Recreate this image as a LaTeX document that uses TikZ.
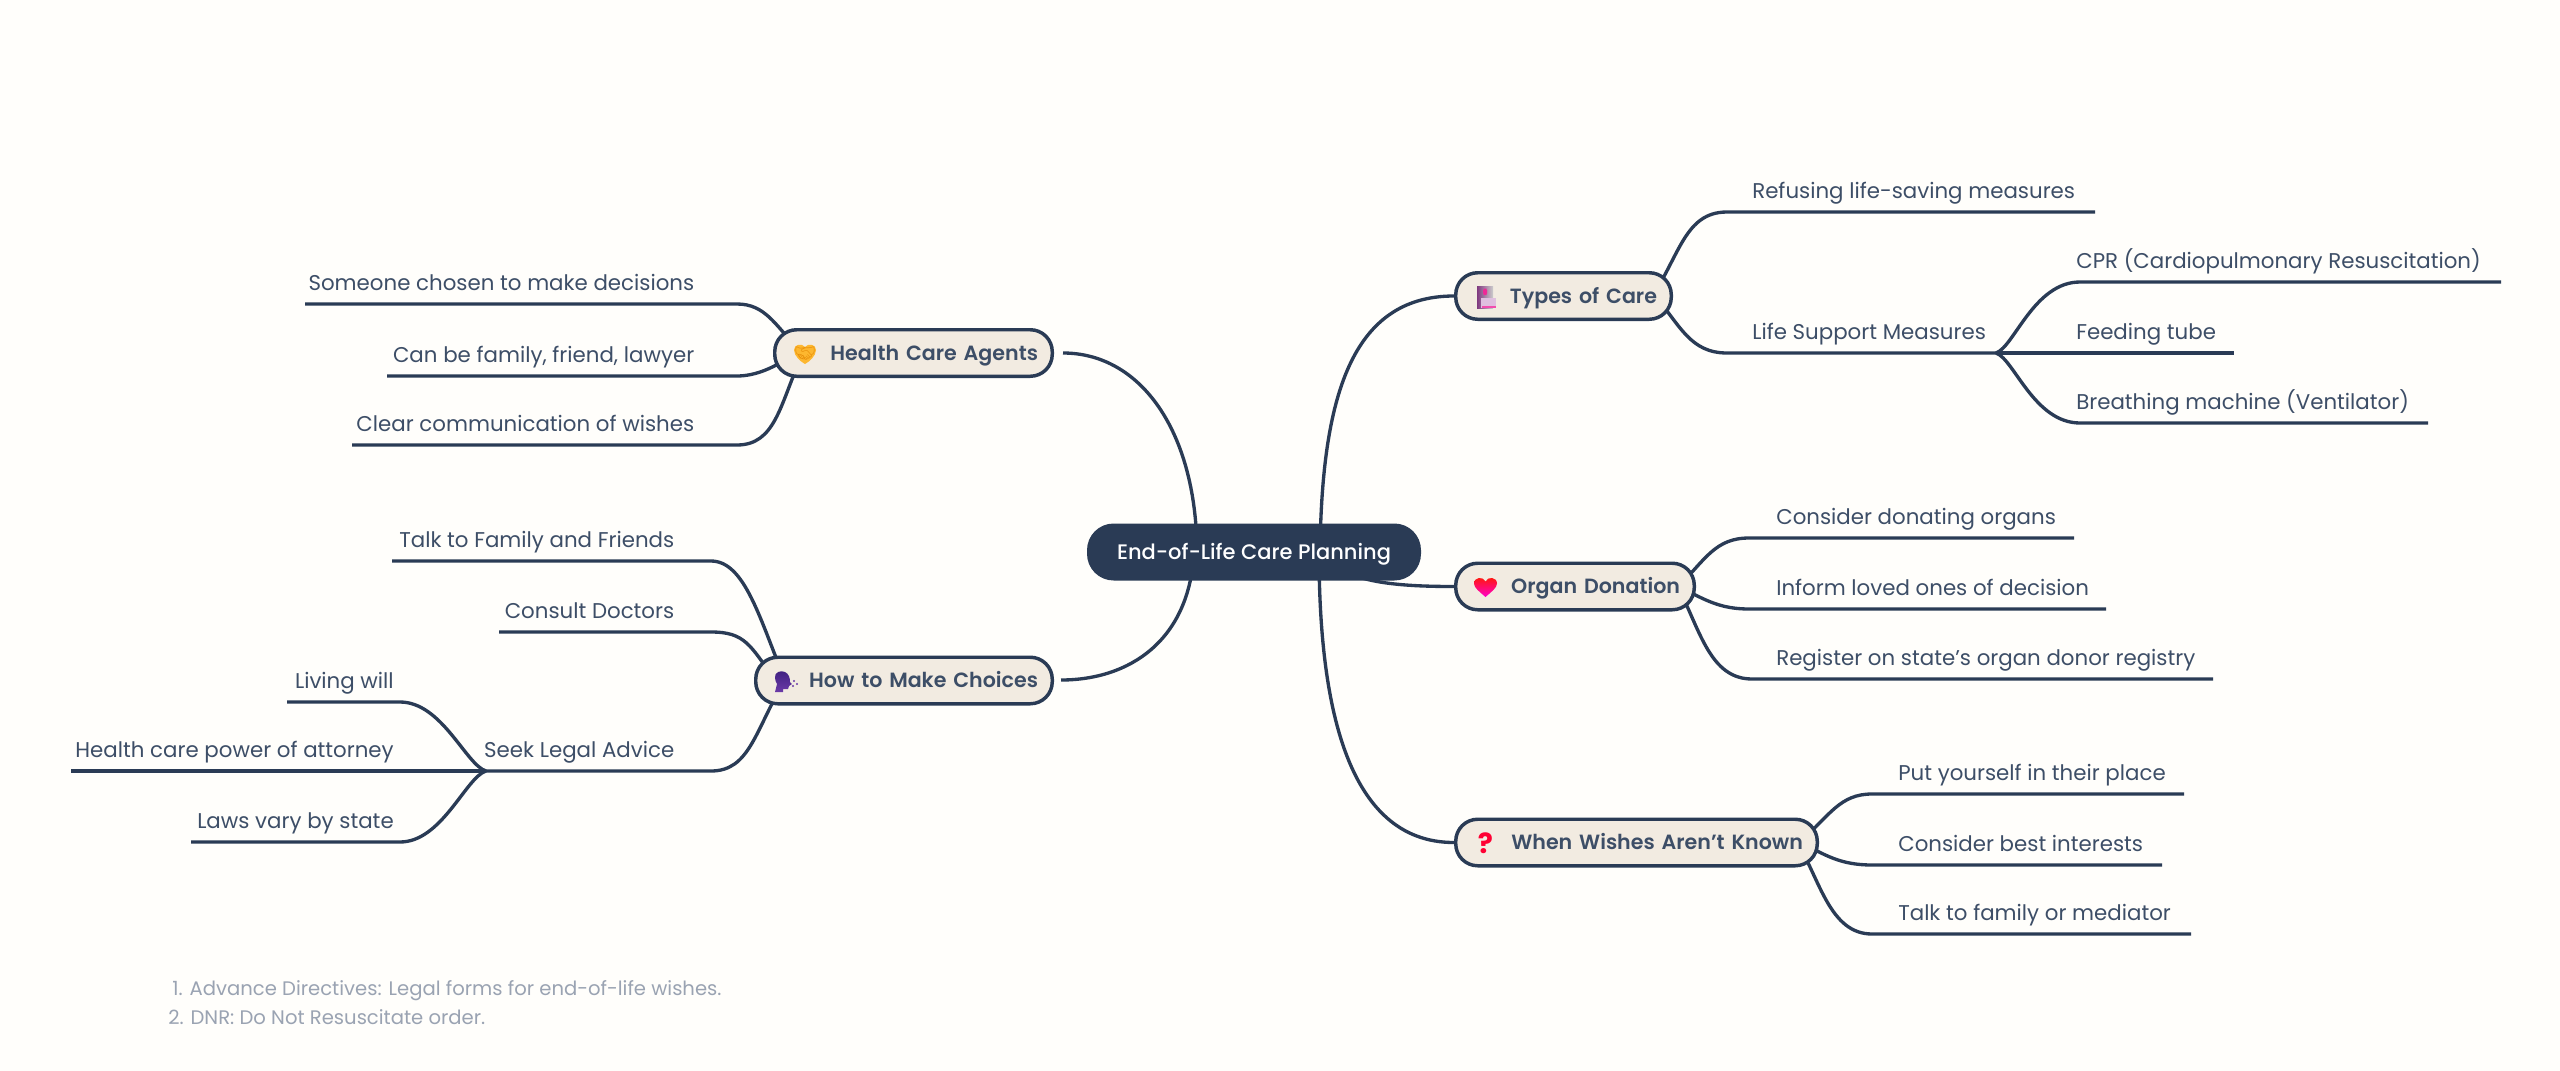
\documentclass[tikz,border=0pt]{standalone}
\usepackage{fontspec}
\setmainfont{Poppins}
\newfontfamily\popmed{Poppins}[UprightFont=* Medium]
\newfontfamily\popsemi{Poppins}[UprightFont=* SemiBold]
\newfontfamily\emo{Noto Emoji}
\definecolor{pagebg}{HTML}{FFFEFB}
\definecolor{linec}{HTML}{2A3B55}
\definecolor{pillf}{HTML}{F2EBE1}
\definecolor{txt}{HTML}{3D4E67}
\definecolor{foot}{HTML}{9AA3B2}
\definecolor{handc}{HTML}{FDB72F}
\definecolor{handd}{HTML}{E8900C}
\definecolor{heada}{HTML}{3F2080}
\definecolor{headb}{HTML}{6B3AA8}
\pgfdeclarelayer{lines}
\pgfsetlayers{lines,main}
\tikzset{
 link/.style={draw=linec,line width=2.5pt},
 leaf/.style={font=\fontsize{16pt}{20pt}\selectfont,text=txt,inner sep=0pt},
 pill/.style={draw=linec,line width=2.6pt,fill=pillf,rounded corners=16.5pt,minimum height=34.9pt,
   inner xsep=10.7pt,inner ysep=0pt,text=txt,align=right,text height=12.75pt,text depth=2.25pt,
   font=\fontsize{15.45pt}{20pt}\popsemi},
 root/.style={fill=linec,rounded corners=20pt,minimum width=250.5pt,minimum height=42.75pt,inner sep=0pt,
   text=white,text height=12.75pt,text depth=2.25pt,font=\fontsize{15.75pt}{20pt}\popmed},
 note/.style={font=\fontsize{14.7pt}{18pt}\selectfont,text=foot,inner sep=0pt,anchor=base west},
}
\newcommand{\LeafL}[4]{\node[leaf,anchor=base east] (#1) at (#2,#3-14) {#4};}
\newcommand{\LeafR}[4]{\node[leaf,anchor=base west] (#1) at (#2,#3-14) {#4};}
\begin{document}
\begin{tikzpicture}[x=0.75pt,y=-0.75pt]
\useasboundingbox (0,0) rectangle (2560,1071);
\begin{pgfonlayer}{lines}
\fill[pagebg] (0,0) rectangle (2560,1071);
\end{pgfonlayer}
% root and branches
\node[root] (ctr) at (1254,552) {End-of-Life Care Planning};
\node[pill,text width=186.75pt] (ha) at (913.5,353) {Health Care Agents};
\node[pill,text width=201pt] (hm) at (904,680.5) {How to Make Choices};
\node[pill,text width=140.25pt] (tc) at (1563.5,296) {Types of Care};
\node[pill,text width=157.5pt] (od) at (1575,586.5) {Organ Donation};
\node[pill,text width=249.75pt] (ww) at (1636.5,842.5) {When Wishes Aren’t Known};
% leaves
\LeafR{l1}{1752}{212}{Refusing life-saving measures}
\LeafR{l2}{1752}{353}{Life Support Measures}
\LeafR{l21}{2076}{282}{CPR (Cardiopulmonary Resuscitation)}
\LeafR{l22}{2076}{353}{Feeding tube}
\LeafR{l23}{2076}{423}{Breathing machine (Ventilator)}
\LeafR{o1}{1776}{538}{Consider donating organs}
\LeafR{o2}{1776}{609}{Inform loved ones of decision}
\LeafR{o3}{1776}{679}{Register on state’s organ donor registry}
\LeafR{w1}{1898}{794}{Put yourself in their place}
\LeafR{w2}{1898}{865}{Consider best interests}
\LeafR{w3}{1898}{934}{Talk to family or mediator}
\LeafL{a1}{694.5}{304}{Someone chosen to make decisions}
\LeafL{a2}{694.5}{376}{Can be family, friend, lawyer}
\LeafL{a3}{694.5}{445}{Clear communication of wishes}
\LeafL{m1}{674.5}{561}{Talk to Family and Friends}
\LeafL{m2}{674.5}{632}{Consult Doctors}
\LeafL{m3}{674.5}{771}{Seek Legal Advice}
\LeafL{m31}{394}{702}{Living will}
\LeafL{m32}{394}{771}{Health care power of attorney}
\LeafL{m33}{394}{842}{Laws vary by state}
\node[note] (n1) at (172,995) {1. Advance Directives: Legal forms for end-of-life wishes.};
\node[note] (n2) at (168,1024) {2. DNR: Do Not Resuscitate order.};
% named connector points
\foreach \n/\x/\y in {
 k1/1727/212,e1/2095/212,k2/1727/353,hubr/1996/353,
 k21/2080/282,e21/2501/282,e22/2234/353,k23/2080/423,e23/2428/423,
 ko1/1749/538,eo1/2074/538,ko2/1749/609,eo2/2106/609,ko3/1752/679,eo3/2213/679,
 kw1/1872/794,ew1/2184/794,kw2/1872/865,ew2/2162/865,kw3/1872/934,ew3/2191/934,
 ka1/737/304,ea1/305/304,ka2/737/376,ea2/387/376,ka3/737/445,ea3/352/445,
 km1/711/561,em1/392/561,km2/711/632,em2/499/632,km3/711/771,hubl/486/771,
 km31/400/702,em31/287/702,em32/71/771,km33/400/842,em33/191/842,
 sha/1063/353,shm/1061/680,
 ca/1197/551,cm/1194/551,ct/1320/551,co/1350/574,cw/1319/551,
 tu/1650/300,td/1655/296,ou/1678/587,oi/1680/587,wu/1800/842,wd/1797/842,
 ag/795/345,ab/795/353,ac/800/360,mg/785/680,mc/775/680}
 {\coordinate (\n) at (\x,\y);}
\begin{pgfonlayer}{lines}
% root to branches
\draw[link] (sha) .. controls (1140,353) and (1196,430) .. (ca);
\draw[link] (shm) .. controls (1130,680) and (1190,640) .. (cm);
\draw[link] (ct) .. controls (1322,400) and (1350,296) .. (tc.west);
\draw[link] (co) .. controls (1375,584) and (1410,586.5) .. (od.west);
\draw[link] (cw) .. controls (1319,700) and (1345,842.5) .. (ww.west);
% Types of Care
\draw[link] (tu) .. controls (1680,255) and (1685,212) .. (k1) -- (e1);
\draw[link] (td) .. controls (1680,325) and (1690,353) .. (k2) -- (hubr);
\draw[link] (hubr) .. controls (2014,347) and (2034,282) .. (k21) -- (e21);
\draw[link] (hubr) -- (e22);
\draw[link] (hubr) .. controls (2014,359) and (2034,423) .. (k23) -- (e23);
% Organ Donation
\draw[link] (ou) .. controls (1705,560) and (1715,538) .. (ko1) -- (eo1);
\draw[link] (oi) .. controls (1705,600) and (1720,609) .. (ko2) -- (eo2);
\draw[link] (ou) .. controls (1700,630) and (1710,679) .. (ko3) -- (eo3);
% When Wishes
\draw[link] (wu) .. controls (1830,815) and (1840,794) .. (kw1) -- (ew1);
\draw[link] (wu) .. controls (1825,855) and (1840,865) .. (kw2) -- (ew2);
\draw[link] (wd) .. controls (1820,880) and (1830,934) .. (kw3) -- (ew3);
% Health Care Agents
\draw[link] (ag) .. controls (775,325) and (765,304) .. (ka1) -- (ea1);
\draw[link] (ab) .. controls (775,368) and (755,376) .. (ka2) -- (ea2);
\draw[link] (ac) .. controls (780,405) and (775,445) .. (ka3) -- (ea3);
% How to Make Choices
\draw[link] (mg) .. controls (760,620) and (745,561) .. (km1) -- (em1);
\draw[link] (mc) .. controls (750,645) and (745,632) .. (km2) -- (em2);
\draw[link] (mg) .. controls (755,730) and (750,771) .. (km3) -- (hubl);
\draw[link] (hubl) .. controls (466,765) and (442,702) .. (km31) -- (em31);
\draw[link] (hubl) -- (em32);
\draw[link] (hubl) .. controls (466,777) and (442,842) .. (km33) -- (em33);
\end{pgfonlayer}
% icons
% handshake
\fill[handc] (794,350) .. controls (794,344) and (802,343) .. (805,347) .. controls (808,343) and (816,344) .. (816,350) .. controls (816,356) and (809,362) .. (805,364) .. controls (801,362) and (794,356) .. (794,350) -- cycle;
\node[inner sep=0pt,text=handd,font=\fontsize{13pt}{15pt}\emo] (ih) at (805,354) {🤝};
% speaking head
\shade[top color=heada,bottom color=headb] (775,678) .. controls (774,672) and (781,670) .. (785,672) .. controls (789,674) and (790,678) .. (790,682) -- (792,684) -- (789,686) -- (788,689) -- (783,689) -- (783,692) -- (775,692) -- (777,684) .. controls (776,682) and (775,680) .. (775,678) -- cycle;
\fill[headb] (794,681) circle (1.2) (797,684) circle (1.2) (793,686) circle (1.2);
% hospital
\shade[left color=violet!55!gray,right color=gray!40] (1477,286) rectangle (1493,308);
\fill[magenta!80!pink] (1483,290) rectangle (1487,293.5) (1483.5,288.5) rectangle (1486.5,295);
\fill[violet!25] (1481,298) rectangle (1496,308);
\fill[magenta!70] (1482,306) rectangle (1496,308);
% heart
\shade[top color=red!80!orange,bottom color=magenta!80!red] (1485.5,597) .. controls (1480,592) and (1474,588) .. (1474,583.5) .. controls (1474,577) and (1483,576) .. (1485.5,581.5) .. controls (1488,576) and (1497,577) .. (1497,583.5) .. controls (1497,588) and (1491,592) .. (1485.5,597) -- cycle;
% question mark
\node[inner sep=0pt,text=red!80!magenta,font=\fontsize{21pt}{24pt}\bfseries] (iq) at (1485.5,843) {?};
\end{tikzpicture}
\end{document}
